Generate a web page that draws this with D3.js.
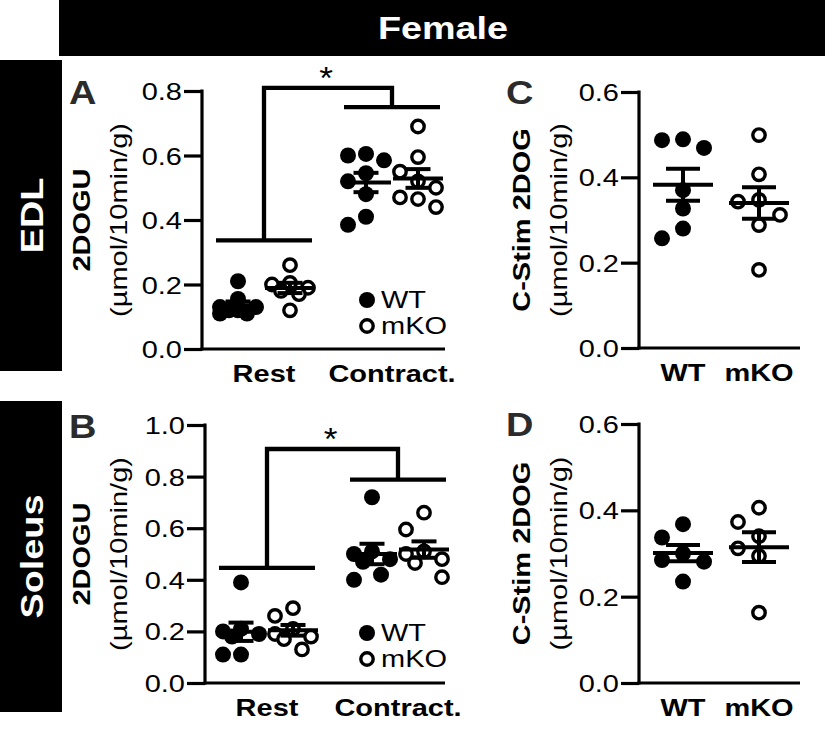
<!DOCTYPE html>
<html>
<head>
<meta charset="utf-8">
<script src="https://cdn.jsdelivr.net/npm/d3@7"></script>
<style>
  body { margin: 0; background: #fff; }
  text { font-family: "Liberation Sans", Arial, sans-serif; }
</style>
</head>
<body>
<script>
// ---- data ----
var groups = ["Rest", "Contract."],
    genotypes = ["WT", "mKO"];

// EDL 2DOGU (panel A)
var edlRestWT = [0.21, 0.155, 0.13, 0.12, 0.11, 0.11, 0.13, 0.12],
    edlRestKO = [0.26, 0.205, 0.20, 0.19, 0.18, 0.17, 0.12],
    edlConWT  = [0.60, 0.605, 0.585, 0.545, 0.52, 0.48, 0.41, 0.385],
    edlConKO  = [0.69, 0.595, 0.55, 0.52, 0.50, 0.47, 0.465, 0.44];

// Soleus 2DOGU (panel B)
var solRestWT = [0.39, 0.21, 0.20, 0.19, 0.18, 0.11, 0.11],
    solRestKO = [0.29, 0.26, 0.21, 0.19, 0.18, 0.17, 0.13],
    solConWT  = [0.72, 0.51, 0.50, 0.48, 0.47, 0.42, 0.40],
    solConKO  = [0.66, 0.595, 0.51, 0.50, 0.48, 0.465, 0.41];

// contraction-stimulated 2DOG (panels C, D)
var edlStimWT = [0.489, 0.487, 0.469, 0.37, 0.327, 0.28, 0.257],
    edlStimKO = [0.499, 0.407, 0.347, 0.343, 0.312, 0.288, 0.183],
    solStimWT = [0.368, 0.337, 0.30, 0.285, 0.281, 0.235],
    solStimKO = [0.406, 0.373, 0.34, 0.312, 0.294, 0.163];

var ticksA = [0, 0.2, 0.4, 0.6, 0.8],
    ticksB = [0, 0.2, 0.4, 0.6, 0.8, 1.0],
    ticksCD = [0, 0.2, 0.4, 0.6];

// significance brackets: [rest bar, top, contraction bar]
var bracketA = [0.337, 0.81, 0.75],
    bracketB = [0.446, 0.907, 0.788];

var width = 825, height = 729,
    sx = 1.26;   // the lettering is wide

var svg = d3.select("body").append("svg")
    .attr("width", width)
    .attr("height", height);

// text helper: widened along the reading direction, optionally rotated
function txt(g, x, y, s, size, bold, anchor, rot, stretch){
    var k = stretch || sx;
    var tr = "translate(" + x + "," + y + ")" + (rot ? " rotate(-90)" : "") + " scale(" + k + ",1)";
    return g.append("text").attr("transform", tr)
        .attr("text-anchor", anchor || "start")
        .style("font-size", size + "px")
        .style("font-weight", bold ? "bold" : "normal")
        .style("fill", "#000")
        .text(s);
}

// ---- header / side labels ----
var narrow = "'Liberation Sans Narrow', 'Liberation Sans', Arial";
svg.append("rect").attr("x", 59).attr("y", 0).attr("width", 766).attr("height", 56).style("fill", "#000");
txt(svg, 443, 39, "Female", 32, true, "middle", false, 1.18)
    .style("font-family", narrow).style("fill", "#fff");

var sides = [{name: "EDL", y0: 60, y1: 371}, {name: "Soleus", y0: 401, y1: 712}];
sides.forEach(function(s){
    svg.append("rect").attr("x", 0).attr("y", s.y0).attr("width", 62).attr("height", s.y1 - s.y0).style("fill", "#000");
    txt(svg, 43, (s.y0 + s.y1) / 2, s.name, 32, true, "middle", true, 1.18)
        .style("font-family", narrow).style("fill", "#fff");
});

// ---- helpers ----
function swarm(values, cx, y, r, step){
    var placed = [];
    var order = values.map(function(v, i){ return i; })
        .sort(function(a, b){ return values[b] - values[a]; });
    var xs = new Array(values.length);
    order.forEach(function(i){
        var py = y(values[i]);
        var cands = [0, -step, step, -step / 2, step / 2];
        var best = 0, bestD = -1;
        for (var k = 0; k < cands.length; k++){
            var px = cx + cands[k];
            var dmin = Infinity;
            placed.forEach(function(p){
                var d = Math.hypot(p[0] - px, p[1] - py);
                if (d < dmin) dmin = d;
            });
            if (dmin >= 2 * r + 1){ best = cands[k]; bestD = dmin; break; }
            if (dmin > bestD){ bestD = dmin; best = cands[k]; }
        }
        placed.push([cx + best, py]);
        xs[i] = cx + best;
    });
    return xs;
}

function meanSem(v){
    var m = d3.mean(v), sd = d3.deviation(v);
    return [m, sd / Math.sqrt(v.length)];
}

function drawGroup(g, values, cx, y, open, meanW, semW, step){
    var r = 8;
    var xs = swarm(values, cx, y, r, step);
    g.selectAll(null).data(values).enter().append("circle")
        .attr("cx", function(d, i){ return xs[i]; })
        .attr("cy", function(d){ return y(d); })
        .attr("r", open ? 6.2 : r)
        .style("fill", open ? "#fff" : "#000")
        .style("stroke", "#000")
        .style("stroke-width", open ? 3.4 : 0);
    var ms = meanSem(values);
    var lines = [
        [cx - meanW, y(ms[0]), cx + meanW, y(ms[0])],
        [cx - semW, y(ms[0] + ms[1]), cx + semW, y(ms[0] + ms[1])],
        [cx - semW, y(ms[0] - ms[1]), cx + semW, y(ms[0] - ms[1])],
        [cx, y(ms[0] + ms[1]), cx, y(ms[0] - ms[1])]
    ];
    g.selectAll(null).data(lines).enter().append("line")
        .attr("x1", function(d){ return d[0]; }).attr("y1", function(d){ return d[1]; })
        .attr("x2", function(d){ return d[2]; }).attr("y2", function(d){ return d[3]; })
        .style("stroke", "#000").style("stroke-width", 4);
}

function drawAxes(p){
    var g = svg.append("g");
    var yAxis = d3.axisLeft(p.y).tickValues(p.ticks).tickFormat("").tickSize(18);
    var ya = g.append("g").attr("transform", "translate(" + p.left + ",0)").call(yAxis);
    ya.select(".domain").remove();
    ya.selectAll(".tick line").style("stroke-width", 3.2);
    ya.selectAll(".tick").each(function(d){
        txt(d3.select(this), -20, 8.5, d3.format(".1f")(d), 23, false, "end");
    });
    g.append("line").attr("x1", p.left).attr("x2", p.left)
        .attr("y1", p.y.range()[1] - 1.6).attr("y2", p.y.range()[0] + 1.6)
        .style("stroke", "#000").style("stroke-width", 3.2);
    g.append("line").attr("x1", p.left - 1.6).attr("x2", p.right)
        .attr("y1", p.y.range()[0]).attr("y2", p.y.range()[0])
        .style("stroke", "#000").style("stroke-width", 3.2);
    // category labels
    p.x.domain().forEach(function(d){
        txt(g, p.x(d), p.y.range()[0] + 33, d, 23, true, "middle");
    });
    // y titles
    var my = (p.y.range()[0] + p.y.range()[1]) / 2;
    txt(g, p.t1x, my, p.title, 23, true, "middle", true);
    txt(g, p.t2x, my, "(\u00b5mol/10min/g)", 23, false, "middle", true);
    // panel letter
    txt(g, p.lx, p.ly, p.letter, 33, true, "start", false, 1.15).style("fill", "#2b2b2b");
    return g;
}

function drawLegend(g, lx, ly){
    genotypes.forEach(function(k, i){
        g.append("circle").attr("cx", lx).attr("cy", ly + i * 26)
            .attr("r", k == "WT" ? 8 : 6.2)
            .style("fill", k == "WT" ? "#000" : "#fff")
            .style("stroke", "#000").style("stroke-width", k == "WT" ? 0 : 3.4);
        txt(g, lx + 14, ly + i * 26 + 8, k, 23, false);
    });
}

function drawBracket(g, x, y, b){
    var xr0 = x("Rest") - 48, xr1 = x("Rest") + 48,
        xc0 = x("Contract.") - 48, xc1 = x("Contract.") + 48;
    var path = d3.path();
    path.moveTo(xr0, y(b[0])); path.lineTo(xr1, y(b[0]));
    path.moveTo(x("Rest"), y(b[0])); path.lineTo(x("Rest"), y(b[1]));
    path.lineTo(x("Contract."), y(b[1])); path.lineTo(x("Contract."), y(b[2]));
    path.moveTo(xc0, y(b[2])); path.lineTo(xc1, y(b[2]));
    g.append("path").attr("d", path.toString())
        .style("fill", "none").style("stroke", "#000").style("stroke-width", 4.3);
    txt(g, (x("Rest") + x("Contract.")) / 2 - 2, y(b[1]) + 1, "*", 32, false, "middle", false, 1.1);
}

// ---- panel A / B (2DOGU rest vs contraction) ----
function twoWayPanel(cfg){
    var y = d3.scaleLinear().domain([0, cfg.ticks[cfg.ticks.length - 1]]).range([cfg.bottom, cfg.top]);
    var x = d3.scalePoint().domain(groups).range(cfg.xr);
    var g = drawAxes({y: y, x: x, ticks: cfg.ticks, left: cfg.left, right: cfg.right,
        t1x: 90, t2x: 127, title: "2DOGU", letter: cfg.letter, lx: 69, ly: cfg.top + 13});
    drawBracket(g, x, y, cfg.bracket);
    var off = 26;
    drawGroup(g, cfg.data[0], x("Rest") - off, y, false, 25, 12.5, 18);
    drawGroup(g, cfg.data[1], x("Rest") + off, y, true, 25, 12.5, 18);
    drawGroup(g, cfg.data[2], x("Contract.") - off, y, false, 25, 12.5, 18);
    drawGroup(g, cfg.data[3], x("Contract.") + off, y, true, 25, 12.5, 18);
    drawLegend(g, 367, cfg.legY);
}

twoWayPanel({letter: "A", ticks: ticksA, top: 91, bottom: 349, left: 202, right: 445,
    xr: [264, 392], bracket: bracketA, legY: 300,
    data: [edlRestWT, edlRestKO, edlConWT, edlConKO]});
twoWayPanel({letter: "B", ticks: ticksB, top: 425, bottom: 683, left: 205, right: 445,
    xr: [267, 398], bracket: bracketB, legY: 633,
    data: [solRestWT, solRestKO, solConWT, solConKO]});

// ---- panel C / D (contraction-stimulated) ----
function stimPanel(cfg){
    var y = d3.scaleLinear().domain([0, 0.6]).range([cfg.bottom, cfg.top]);
    var x = d3.scalePoint().domain(genotypes).range([683, 759]);
    var g = drawAxes({y: y, x: x, ticks: ticksCD, left: 639, right: 800,
        t1x: 530, t2x: 567, title: "C-Stim 2DOG", letter: cfg.letter, lx: 506, ly: cfg.top + 12});
    drawGroup(g, cfg.data[0], x("WT"), y, false, 30, 17, 21);
    drawGroup(g, cfg.data[1], x("mKO"), y, true, 30, 17, 21);
}

stimPanel({letter: "C", top: 92, bottom: 348, data: [edlStimWT, edlStimKO]});
stimPanel({letter: "D", top: 424, bottom: 683, data: [solStimWT, solStimKO]});
</script>
</body>
</html>
